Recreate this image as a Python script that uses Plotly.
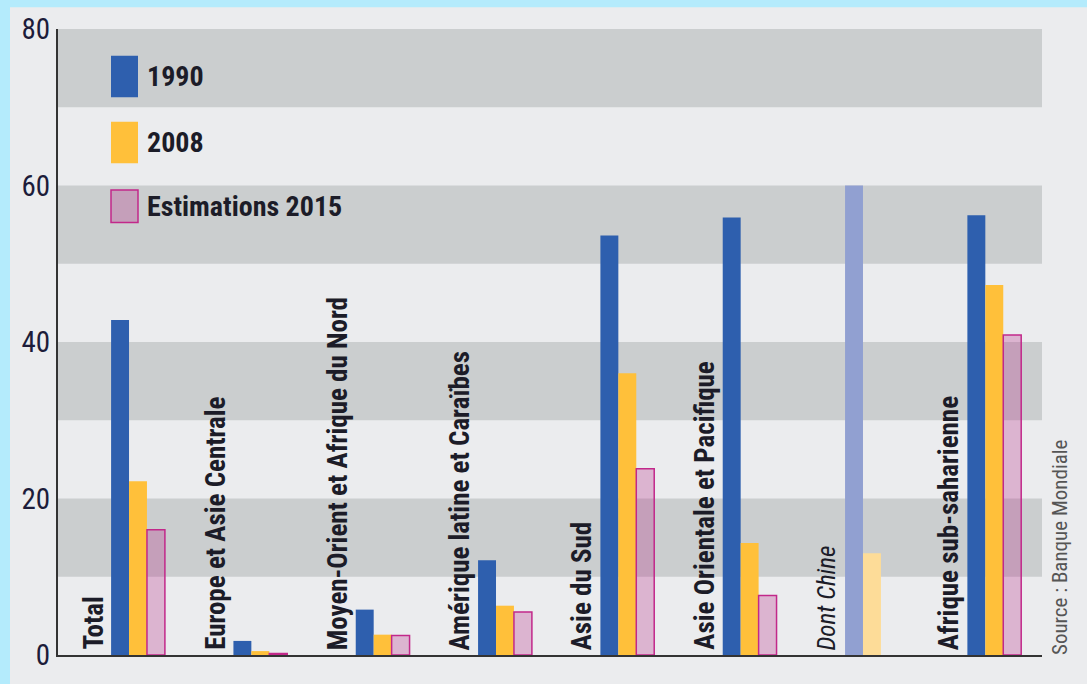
import plotly.graph_objects as go

# ---------------- data ----------------
categories = ["Total", "Europe et Asie Centrale", "Moyen-Orient et Afrique du Nord",
              "Amérique latine et Caraïbes", "Asie du Sud", "Asie Orientale et Pacifique",
              "Dont Chine", "Afrique sub-saharienne"]
v1990 = [42.8, 1.8, 5.8, 12.1, 53.6, 55.9, 60.0, 56.2]
v2008 = [22.2, 0.5, 2.6, 6.3, 36.0, 14.3, 13.0, 47.3]
v2015 = [16.0, 0.2, 2.5, 5.5, 23.8, 7.6, None, 40.9]
series_names = ["1990", "2008", "Estimations 2015"]
y_ticks = [0, 20, 40, 60, 80]
sub_category = "Dont Chine"
source_text = "Source : Banque Mondiale"

# ---------------- styles ----------------
W, H = 1087, 684
ML, MR, MT, MB = 58, 45, 27, 23
PW, PH = W - ML - MR, H - MT - MB

def px_x(p):
    return (p - ML) / PW

def px_y(p):
    return (H - MB - p) / PH

FONT = "'Roboto Condensed', 'Open Sans Condensed', sans-serif"
TXT = "#1c1c28"
BLUE, BLUE_L = "#2e5fae", "#91a0d1"
YEL, YEL_L = "#ffc03a", "#fddc98"
PINK_FILL, PINK_LINE = "rgba(185,50,140,0.30)", "#c2288a"
BAND = "#cbcecf"
PANEL = "#ebecee"

c1990 = [BLUE_L if c == sub_category else BLUE for c in categories]
c2008 = [YEL_L if c == sub_category else YEL for c in categories]

fig = go.Figure()
fig.add_trace(go.Bar(x=categories, y=v1990, name=series_names[0],
                     marker=dict(color=c1990, line=dict(width=0))))
fig.add_trace(go.Bar(x=categories, y=v2008, name=series_names[1],
                     marker=dict(color=c2008, line=dict(width=0))))
fig.add_trace(go.Bar(x=categories, y=v2015, name=series_names[2],
                     marker=dict(color=PINK_FILL, line=dict(color=PINK_LINE, width=1.5))))

shapes = []
# light panel over the light-blue page
shapes.append(dict(type="rect", xref="paper", yref="paper",
                   x0=px_x(10), x1=px_x(W + 20), y0=px_y(H + 20), y1=px_y(5),
                   fillcolor=PANEL, line=dict(width=0), layer="below"))
# alternating bands
for lo in range(10, 80, 20):
    shapes.append(dict(type="rect", xref="x domain", yref="y", x0=0, x1=1,
                       y0=lo, y1=lo + 10, fillcolor=BAND, line=dict(width=0),
                       layer="below"))

# manual legend
legend_fills = [BLUE, YEL, PINK_FILL]
legend_lines = [dict(width=0), dict(width=0), dict(color=PINK_LINE, width=1.5)]
legend_tops = [54, 121, 190]
legend_bots = [96, 163, 223]
annotations = []
for name, fc, ln, t, b in zip(series_names, legend_fills, legend_lines, legend_tops, legend_bots):
    shapes.append(dict(type="rect", xref="paper", yref="paper",
                       x0=px_x(111), x1=px_x(138), y0=px_y(b), y1=px_y(t),
                       fillcolor=fc, line=ln, layer="above"))
    annotations.append(dict(xref="paper", yref="paper", x=px_x(145), y=px_y((t + b) / 2),
                            text=f"<b>{name}</b>", showarrow=False, xanchor="left",
                            yanchor="middle", font=dict(family=FONT, size=28, color=TXT)))

# category labels (vertical, left of each group)
for c in categories:
    if c == sub_category:
        txt, fnt = f"<i>{c}</i>", dict(family=FONT, size=25, color=TXT)
    else:
        txt, fnt = f"<b>{c}</b>", dict(family=FONT, size=27, color=TXT)
    annotations.append(dict(xref="x", yref="y", x=c, y=0, text=txt, textangle=-90,
                            showarrow=False, xanchor="center", yanchor="bottom",
                            xshift=-45, yshift=3, font=fnt))

annotations.append(dict(xref="paper", yref="paper", x=px_x(1060), y=px_y(663),
                        text=source_text, textangle=-90, showarrow=False,
                        xanchor="center", yanchor="bottom",
                        font=dict(family=FONT, size=21, color="#555555")))

fig.update_layout(
    width=W, height=H, autosize=False,
    margin=dict(l=ML, r=MR, t=MT, b=MB, pad=0),
    paper_bgcolor="#b4ebfc", plot_bgcolor="rgba(0,0,0,0)",
    barmode="group", bargap=0.56, bargroupgap=0,
    showlegend=False,
    shapes=shapes, annotations=annotations,
    xaxis=dict(type="category", range=[-0.654, 7.39], showticklabels=False,
               showgrid=False, zeroline=False, showline=True, linecolor="#333333",
               linewidth=2, ticks=""),
    yaxis=dict(range=[0, 80], tickvals=y_ticks, showgrid=False, zeroline=False,
               showline=True, linecolor="#333333", linewidth=2, ticks="",
               tickfont=dict(family=FONT, size=29, color="#1c1c3a")),
)

fig.write_html("out.html")
